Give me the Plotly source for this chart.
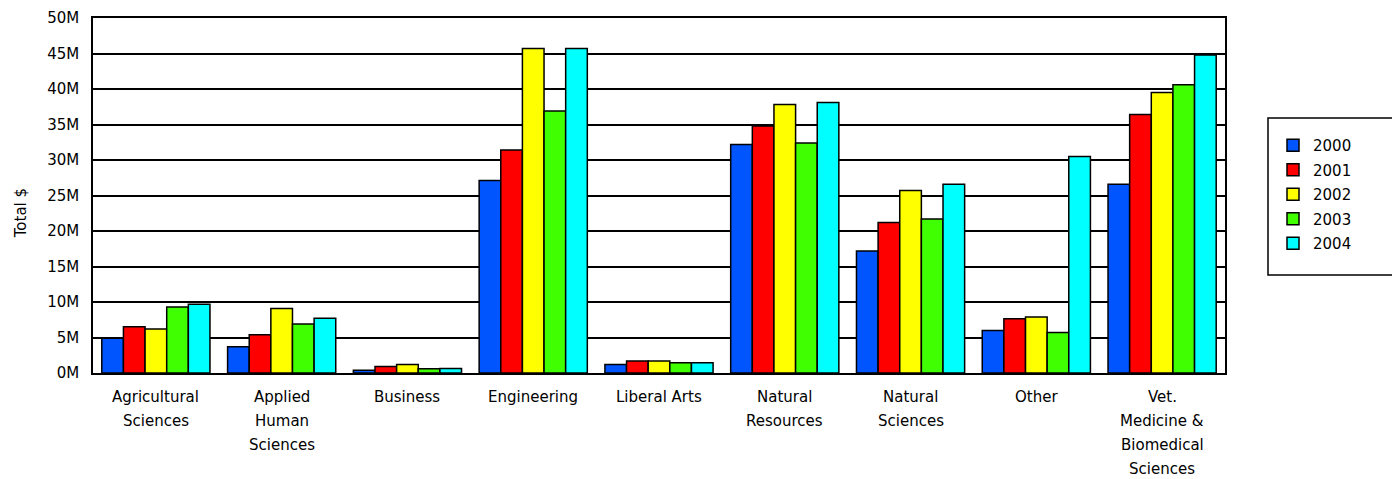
import plotly.graph_objects as go

categories = ["Agricultural Sciences", "Applied Human Sciences", "Business", "Engineering",
              "Liberal Arts", "Natural Resources", "Natural Sciences", "Other",
              "Vet. Medicine & Biomedical Sciences"]
category_label_lines = [["Agricultural", "Sciences"], ["Applied", "Human", "Sciences"], ["Business"],
                        ["Engineering"], ["Liberal Arts"], ["Natural", "Resources"],
                        ["Natural", "Sciences"], ["Other"],
                        ["Vet.", "Medicine &", "Biomedical", "Sciences"]]
years = ["2000", "2001", "2002", "2003", "2004"]

# values in millions of dollars
v2000 = [4.9, 3.7, 0.4, 27.1, 1.2, 32.2, 17.2, 6.0, 26.6]
v2001 = [6.5, 5.4, 0.9, 31.4, 1.7, 34.8, 21.2, 7.65, 36.4]
v2002 = [6.2, 9.1, 1.2, 45.7, 1.7, 37.8, 25.7, 7.9, 39.5]
v2003 = [9.3, 6.9, 0.6, 36.9, 1.45, 32.4, 21.7, 5.7, 40.6]
v2004 = [9.7, 7.7, 0.65, 45.7, 1.45, 38.1, 26.6, 30.5, 44.8]

y_tick_vals = [0, 5, 10, 15, 20, 25, 30, 35, 40, 45, 50]
y_tick_text = ["0M", "5M", "10M", "15M", "20M", "25M", "30M", "35M", "40M", "45M", "50M"]

colors = ["#0055FF", "#FF0000", "#FFFF00", "#40FF00", "#00FFFF"]
series = [v2000, v2001, v2002, v2003, v2004]

FONT = "DejaVu Sans"
PW, PH = 1132, 355
fig = go.Figure()
for name, vals, col in zip(years, series, colors):
    fig.add_trace(go.Bar(
        x=categories, y=vals, name=name, legendgroup=name,
        marker=dict(color=col, line=dict(color="black", width=1.5)),
    ))

annotations = []
for cat, lines in zip(categories, category_label_lines):
    for i, line in enumerate(lines):
        annotations.append(dict(
            x=cat, xref="x", y=0, yref="paper", yanchor="middle",
            yshift=-(24 + 24 * i), text=line, showarrow=False,
            font=dict(family=FONT, size=15, color="black"),
        ))

annotations.append(dict(
    x=-83 / PW, xref="paper", y=0.45, yref="paper", text="Total $",
    textangle=-90, showarrow=False, font=dict(family=FONT, size=15, color="black"),
))

# the page body adds an 8px offset, so the figure is 8px smaller and margins shifted
fig.update_layout(
    width=1392, height=471,
    margin=dict(l=85, r=175, t=10, b=106, autoexpand=False),
    plot_bgcolor="white", paper_bgcolor="white",
    barmode="group", bargap=0.14, bargroupgap=0,
    font=dict(family=FONT, size=15, color="black"),
    showlegend=True,
    legend=dict(
        x=1180 / PW, xanchor="left", y=244 / PH, yanchor="top",
        bgcolor="rgba(0,0,0,0)", borderwidth=0,
        font=dict(family=FONT, size=15, color="black"),
        tracegroupgap=2, itemwidth=30,
    ),
    annotations=annotations,
    shapes=[dict(type="rect", xref="paper", yref="paper",
                 x0=1175 / PW, x1=1302 / PW, y0=98 / PH, y1=255 / PH,
                 line=dict(color="black", width=1.5), fillcolor="rgba(0,0,0,0)")],
)
fig.update_xaxes(showticklabels=False, showline=True, linecolor="black", linewidth=1.5,
                 mirror=True, ticks="", showgrid=False)
fig.update_yaxes(range=[0, 50], tickvals=y_tick_vals, ticktext=y_tick_text,
                 showgrid=True, gridcolor="black", gridwidth=1.5,
                 showline=True, linecolor="black", linewidth=1.5, mirror=True,
                 zeroline=False, ticks="", ticklabelstandoff=9,
                 tickfont=dict(family=FONT, size=15, color="black"))

fig.write_html("out.html")
